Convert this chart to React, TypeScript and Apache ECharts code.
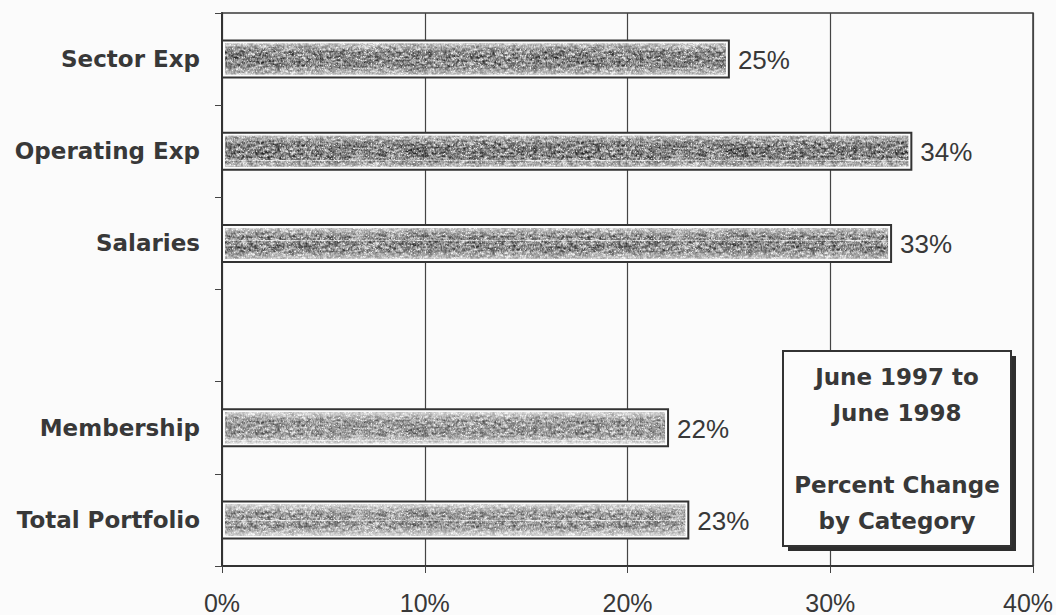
import React, { useEffect, useRef } from "react";
import * as echarts from "echarts";

// Categories top to bottom; the empty entry keeps a gap row between groups.
const categories = ["Sector Exp", "Operating Exp", "Salaries", "", "Membership", "Total Portfolio"];
const changePct: (number | null)[] = [25, 34, 33, null, 22, 23];
const xMin = 0;
const xMax = 40;
const xStep = 10;
const noteLines = ["June 1997 to", "June 1998", "", "Percent Change", "by Category"];

// How much each bar's texture is lightened (print density varies per row).
const barLighten: Record<string, number> = {
  "Sector Exp": 0.05,
  "Operating Exp": 0.0,
  "Salaries": 0.08,
  "Membership": 0.2,
  "Total Portfolio": 0.2,
};

// Fine streaky gray grain used to fill the bars (seeded so it is stable).
function makeGrain(): HTMLCanvasElement {
  const W = 320;
  const H = 40;
  const c = document.createElement("canvas");
  c.width = W;
  c.height = H;
  const ctx = c.getContext("2d")!;
  const img = ctx.createImageData(W, H);
  let s = 20240611;
  const rnd = () => {
    s = (s * 1103515245 + 12345) & 0x7fffffff;
    return s / 0x7fffffff;
  };
  const prevRow = new Float32Array(W);
  for (let y = 0; y < H; y++) {
    let v = rnd();
    for (let x = 0; x < W; x++) {
      v = 0.55 * v + 0.45 * rnd();
      const m = 0.6 * v + 0.4 * prevRow[x];
      prevRow[x] = v;
      let g = 128 - (m - 0.5) * 320;
      if (rnd() < 0.05) g += 80;
      g = Math.max(30, Math.min(235, g));
      const k = (y * W + x) * 4;
      img.data[k] = g;
      img.data[k + 1] = g;
      img.data[k + 2] = g;
      img.data[k + 3] = 255;
    }
  }
  ctx.putImageData(img, 0, 0);
  return c;
}

const labelFont = '"DejaVu Sans", "Liberation Sans", Arial, sans-serif';
const numFont = '"Liberation Sans", Arial, sans-serif';
const ink = "#383838";

export default function App() {
  const ref = useRef<HTMLDivElement>(null);

  useEffect(() => {
    if (!ref.current) return;
    const chart = echarts.init(ref.current, undefined, { renderer: "svg" });
    const grain = makeGrain();

    const barData = changePct
      .map((v, i) => (v == null ? null : [v, categories[i]]))
      .filter((d) => d != null);

    const fade = (a: number) =>
      new echarts.graphic.LinearGradient(0, 0, 0, 1, [
        { offset: 0, color: `rgba(255,255,255,${Math.min(1, a + 0.5)})` },
        { offset: 0.28, color: `rgba(255,255,255,${a})` },
        { offset: 0.72, color: `rgba(255,255,255,${a})` },
        { offset: 1, color: `rgba(255,255,255,${Math.min(1, a + 0.5)})` },
      ]);

    const boxX = 783;
    const boxY = 351;
    const boxW = 228;
    const boxH = 195;

    chart.setOption({
      animation: false,
      backgroundColor: "#fbfbfb",
      grid: {
        left: 222,
        top: 13,
        right: 23,
        bottom: 49,
        outerBoundsMode: "none",
        containLabel: false,
        show: true,
        borderColor: "#3a3a3a",
        borderWidth: 1.5,
      },
      xAxis: {
        type: "value",
        min: xMin,
        max: xMax,
        interval: xStep,
        axisLine: { show: true, lineStyle: { color: "#333", width: 2 } },
        axisTick: { show: true, length: 7, lineStyle: { color: "#444", width: 1 } },
        axisLabel: {
          formatter: (val: number) => (val === xMax ? `{last|${val}%}` : `${val}%`),
          color: ink,
          fontSize: 25,
          fontFamily: numFont,
          margin: 24,
          rich: {
            last: {
              color: ink,
              fontSize: 25,
              fontFamily: numFont,
              padding: [0, 10, 0, 0],
            },
          },
        },
        splitLine: { show: true, lineStyle: { color: "#444", width: 1.2 } },
      },
      yAxis: {
        type: "category",
        data: categories,
        inverse: true,
        axisLine: { show: true, lineStyle: { color: "#333", width: 2 } },
        axisTick: { show: true, length: 7, lineStyle: { color: "#444", width: 1 } },
        axisLabel: {
          color: ink,
          fontSize: 23,
          fontWeight: "bold",
          fontFamily: labelFont,
          margin: 22,
        },
        splitLine: { show: false },
      },
      series: [
        {
          type: "custom",
          coordinateSystem: "cartesian2d",
          encode: { x: 0, y: 1 },
          data: barData,
          renderItem: (params: any, api: any) => {
            const v = api.value(0) as number;
            const idx = api.value(1);
            const name = categories[idx as number] ?? "";
            const p0 = api.coord([0, idx]);
            const p1 = api.coord([v, idx]);
            const h = 37;
            const y = p0[1] - h / 2;
            const w = p1[0] - p0[0];
            const inner = { x: p0[0] + 3, y: y + 3, width: w - 6, height: h - 6 };
            return {
              type: "group",
              children: [
                {
                  type: "rect",
                  shape: { x: p0[0], y, width: w, height: h },
                  style: { fill: "#fdfdfd", stroke: "#333", lineWidth: 2 },
                },
                {
                  type: "rect",
                  shape: inner,
                  style: { fill: { image: grain, repeat: "repeat" } },
                },
                {
                  type: "rect",
                  shape: inner,
                  style: { fill: fade(barLighten[name] ?? 0.1) },
                },
                {
                  type: "text",
                  x: p1[0] + 9,
                  y: p0[1] + 1,
                  style: {
                    text: v + "%",
                    fill: ink,
                    font: `26px ${numFont}`,
                    align: "left",
                    verticalAlign: "middle",
                  },
                },
              ],
            };
          },
        },
      ],
      graphic: [
        {
          type: "rect",
          z: 100,
          shape: { x: boxX + 5, y: boxY + 5, width: boxW, height: boxH },
          style: { fill: "#2e2e2e" },
        },
        {
          type: "rect",
          z: 101,
          shape: { x: boxX, y: boxY, width: boxW, height: boxH },
          style: { fill: "#fcfcfc", stroke: "#333", lineWidth: 2 },
        },
        ...noteLines.map((t, i) => ({
          type: "text",
          z: 102,
          x: boxX + boxW / 2,
          y: boxY + 26 + i * 36,
          style: {
            text: t,
            fill: ink,
            font: `bold 23px ${labelFont}`,
            align: "center",
            verticalAlign: "middle",
          },
        })),
      ],
    });

    return () => chart.dispose();
  }, []);

  return (
    <div
      ref={ref}
      style={{ position: "absolute", left: 0, top: 0, width: 1056, height: 615 }}
    />
  );
}
